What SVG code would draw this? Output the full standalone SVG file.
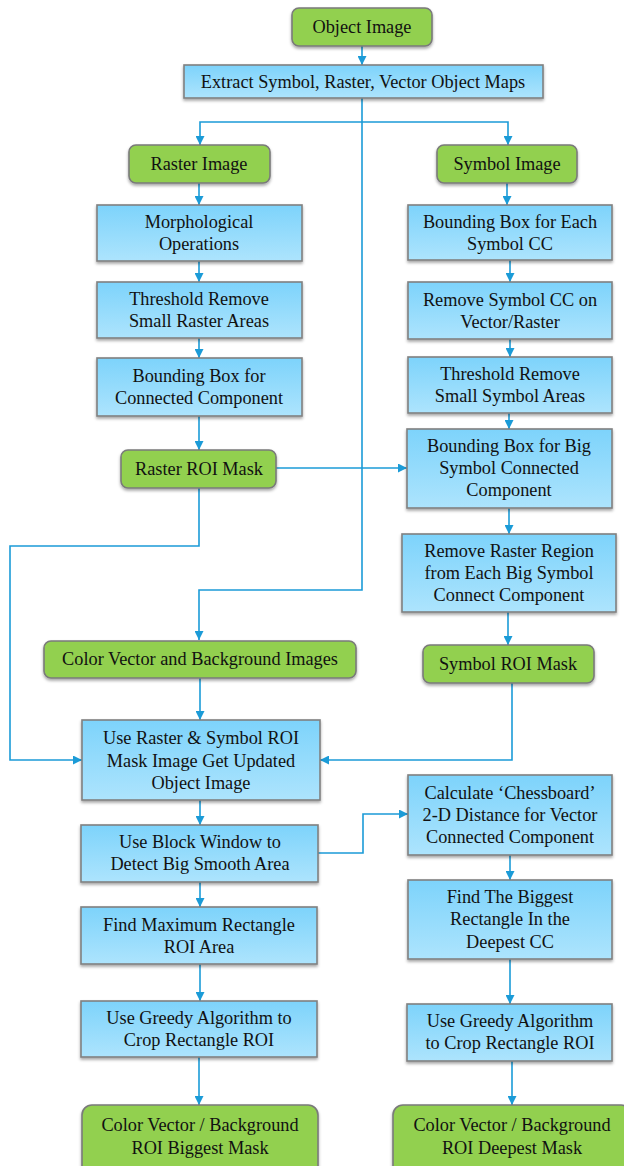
<svg xmlns="http://www.w3.org/2000/svg" width="624" height="1166" viewBox="0 0 624 1166">
  <defs>
    <linearGradient id="blueFill" x1="0" y1="0" x2="0" y2="1">
      <stop offset="0" stop-color="#7dd3fb"/>
      <stop offset="1" stop-color="#ade4fd"/>
    </linearGradient>
    <filter id="shadow" x="-10%" y="-10%" width="120%" height="130%">
      <feDropShadow dx="0" dy="2" stdDeviation="1.5" flood-color="#000" flood-opacity="0.35"/>
    </filter>
    <marker id="arrow" viewBox="0 0 10 10" refX="10" refY="5" markerWidth="9" markerHeight="9" markerUnits="userSpaceOnUse" orient="auto">
      <path d="M0,0 L10,5 L0,10 z" fill="#1b9bd7"/>
    </marker>
    <style>
      .step { fill: url(#blueFill); stroke: #808080; stroke-width: 1.6; filter: url(#shadow); }
      .term { fill: #92d050; stroke: #7a7a7a; stroke-width: 1.6; filter: url(#shadow); }
      .lbl { font-family: 'Liberation Serif', 'Times New Roman', serif; font-size: 18.3px; fill: #111111; text-anchor: middle; }
      .conn { fill: none; stroke: #1b9bd7; stroke-width: 1.6; }
    </style>
  </defs>

  <rect width="624" height="1166" fill="#ffffff"/>

  <!-- connectors -->
  <g id="connectors">
    <path class="conn" d="M362,46 V65" marker-end="url(#arrow)"/>
    <path class="conn" d="M362,98 V590 H199 V640" marker-end="url(#arrow)"/>
    <path class="conn" d="M362,122 H200 V145" marker-end="url(#arrow)"/>
    <path class="conn" d="M362,122 H508 V145" marker-end="url(#arrow)"/>
    <path class="conn" d="M199,183 V205" marker-end="url(#arrow)"/>
    <path class="conn" d="M199,261 V282" marker-end="url(#arrow)"/>
    <path class="conn" d="M199,338 V358" marker-end="url(#arrow)"/>
    <path class="conn" d="M199,416 V450" marker-end="url(#arrow)"/>
    <path class="conn" d="M276,468 H407" marker-end="url(#arrow)"/>
    <path class="conn" d="M199,488 V546 H10 V760 H82" marker-end="url(#arrow)"/>
    <path class="conn" d="M507,183 V205" marker-end="url(#arrow)"/>
    <path class="conn" d="M510,260 V282" marker-end="url(#arrow)"/>
    <path class="conn" d="M510,339 V357" marker-end="url(#arrow)"/>
    <path class="conn" d="M509,413 V429" marker-end="url(#arrow)"/>
    <path class="conn" d="M509,508 V534" marker-end="url(#arrow)"/>
    <path class="conn" d="M508,612 V645" marker-end="url(#arrow)"/>
    <path class="conn" d="M512,683 V760 H320" marker-end="url(#arrow)"/>
    <path class="conn" d="M200,678 V720" marker-end="url(#arrow)"/>
    <path class="conn" d="M200,800 V825" marker-end="url(#arrow)"/>
    <path class="conn" d="M318,853 H363 V814 H408" marker-end="url(#arrow)"/>
    <path class="conn" d="M200,882 V907" marker-end="url(#arrow)"/>
    <path class="conn" d="M200,964 V1001" marker-end="url(#arrow)"/>
    <path class="conn" d="M199,1057 V1105" marker-end="url(#arrow)"/>
    <path class="conn" d="M510,855 V880" marker-end="url(#arrow)"/>
    <path class="conn" d="M510,959 V1004" marker-end="url(#arrow)"/>
    <path class="conn" d="M512,1061 V1105" marker-end="url(#arrow)"/>
  </g>

  <!-- top -->
  <g id="object-image">
    <rect class="term" x="292" y="8" width="140" height="38" rx="7"/>
    <text class="lbl" x="362" y="33">Object Image</text>
  </g>
  <g id="extract-maps">
    <rect class="step" x="184" y="65" width="359" height="33"/>
    <text class="lbl" x="363" y="88">Extract Symbol, Raster, Vector Object Maps</text>
  </g>

  <!-- raster branch -->
  <g id="raster-image">
    <rect class="term" x="129" y="145" width="141" height="38" rx="7"/>
    <text class="lbl" x="199" y="170">Raster Image</text>
  </g>
  <g id="morphological">
    <rect class="step" x="97" y="205" width="205" height="56"/>
    <text class="lbl" x="199" y="228">Morphological</text>
    <text class="lbl" x="199" y="250">Operations</text>
  </g>
  <g id="threshold-raster">
    <rect class="step" x="97" y="282" width="205" height="56"/>
    <text class="lbl" x="199" y="305">Threshold Remove</text>
    <text class="lbl" x="199" y="327">Small Raster Areas</text>
  </g>
  <g id="bbox-raster">
    <rect class="step" x="97" y="358" width="205" height="58"/>
    <text class="lbl" x="199" y="382">Bounding Box for</text>
    <text class="lbl" x="199" y="404">Connected Component</text>
  </g>
  <g id="raster-roi-mask">
    <rect class="term" x="121" y="450" width="155" height="38" rx="7"/>
    <text class="lbl" x="199" y="475">Raster ROI Mask</text>
  </g>

  <!-- symbol branch -->
  <g id="symbol-image">
    <rect class="term" x="437" y="145" width="140" height="38" rx="7"/>
    <text class="lbl" x="507" y="170">Symbol Image</text>
  </g>
  <g id="bbox-each-symbol">
    <rect class="step" x="408" y="205" width="204" height="55"/>
    <text class="lbl" x="510" y="228">Bounding Box for Each</text>
    <text class="lbl" x="510" y="250">Symbol CC</text>
  </g>
  <g id="remove-symbol-cc">
    <rect class="step" x="408" y="282" width="204" height="57"/>
    <text class="lbl" x="510" y="306">Remove Symbol CC on</text>
    <text class="lbl" x="510" y="328">Vector/Raster</text>
  </g>
  <g id="threshold-symbol">
    <rect class="step" x="408" y="357" width="204" height="56"/>
    <text class="lbl" x="510" y="380">Threshold Remove</text>
    <text class="lbl" x="510" y="402">Small Symbol Areas</text>
  </g>
  <g id="bbox-big-symbol">
    <rect class="step" x="407" y="429" width="205" height="79"/>
    <text class="lbl" x="509" y="452">Bounding Box for Big</text>
    <text class="lbl" x="509" y="474">Symbol Connected</text>
    <text class="lbl" x="509" y="496">Component</text>
  </g>
  <g id="remove-raster-region">
    <rect class="step" x="402" y="534" width="214" height="78"/>
    <text class="lbl" x="509" y="557">Remove Raster Region</text>
    <text class="lbl" x="509" y="579">from Each Big Symbol</text>
    <text class="lbl" x="509" y="601">Connect Component</text>
  </g>
  <g id="symbol-roi-mask">
    <rect class="term" x="423" y="645" width="171" height="38" rx="7"/>
    <text class="lbl" x="508" y="670">Symbol ROI Mask</text>
  </g>

  <!-- vector / background branch -->
  <g id="color-vector-bg">
    <rect class="term" x="44" y="641" width="312" height="37" rx="7"/>
    <text class="lbl" x="200" y="665">Color Vector and Background Images</text>
  </g>
  <g id="updated-object-image">
    <rect class="step" x="82" y="720" width="238" height="80"/>
    <text class="lbl" x="201" y="744">Use Raster &amp; Symbol ROI</text>
    <text class="lbl" x="201" y="767">Mask Image Get Updated</text>
    <text class="lbl" x="201" y="789">Object Image</text>
  </g>
  <g id="block-window">
    <rect class="step" x="81" y="825" width="237" height="57"/>
    <text class="lbl" x="200" y="848">Use Block Window to</text>
    <text class="lbl" x="200" y="870">Detect Big Smooth Area</text>
  </g>
  <g id="max-rectangle">
    <rect class="step" x="81" y="907" width="236" height="57"/>
    <text class="lbl" x="199" y="931">Find Maximum Rectangle</text>
    <text class="lbl" x="199" y="953">ROI Area</text>
  </g>
  <g id="greedy-left">
    <rect class="step" x="81" y="1001" width="236" height="56"/>
    <text class="lbl" x="199" y="1024">Use Greedy Algorithm to</text>
    <text class="lbl" x="199" y="1046">Crop Rectangle ROI</text>
  </g>
  <g id="biggest-mask">
    <rect class="term" x="82" y="1105" width="236" height="72" rx="10"/>
    <text class="lbl" x="200" y="1131">Color Vector / Background</text>
    <text class="lbl" x="200" y="1154">ROI Biggest Mask</text>
  </g>

  <!-- chessboard branch -->
  <g id="chessboard-distance">
    <rect class="step" x="408" y="775" width="204" height="80"/>
    <text class="lbl" x="510" y="799">Calculate ‘Chessboard’</text>
    <text class="lbl" x="510" y="821">2-D Distance for Vector</text>
    <text class="lbl" x="510" y="843">Connected Component</text>
  </g>
  <g id="biggest-rectangle">
    <rect class="step" x="408" y="880" width="204" height="79"/>
    <text class="lbl" x="510" y="903">Find The Biggest</text>
    <text class="lbl" x="510" y="925">Rectangle In the</text>
    <text class="lbl" x="510" y="948">Deepest CC</text>
  </g>
  <g id="greedy-right">
    <rect class="step" x="407" y="1004" width="205" height="57"/>
    <text class="lbl" x="510" y="1027">Use Greedy Algorithm</text>
    <text class="lbl" x="510" y="1049">to Crop Rectangle ROI</text>
  </g>
  <g id="deepest-mask">
    <rect class="term" x="393" y="1105" width="238" height="72" rx="10"/>
    <text class="lbl" x="512" y="1131">Color Vector / Background</text>
    <text class="lbl" x="512" y="1154">ROI Deepest Mask</text>
  </g>
</svg>
